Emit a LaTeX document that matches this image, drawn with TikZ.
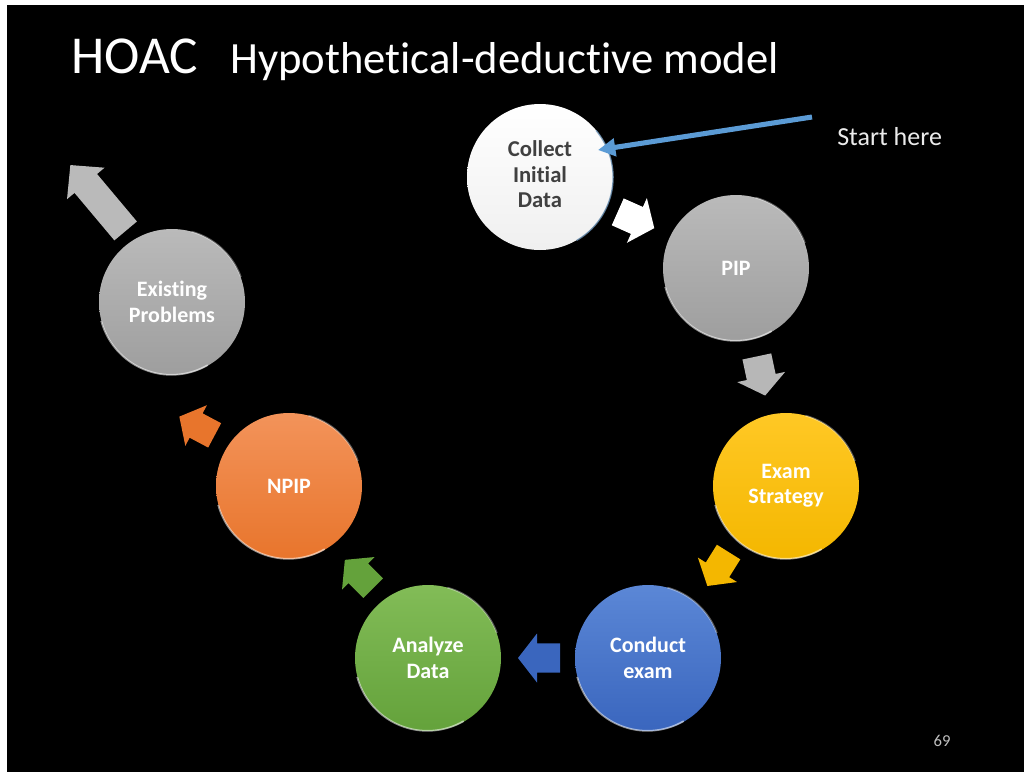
\documentclass[tikz,border=0pt]{standalone}
\usepackage{fontspec}
\setmainfont{Carlito}[Ligatures=CommonOff]
\usetikzlibrary{arrows.meta}
\definecolor{gtop}{HTML}{BABABA}\definecolor{gbot}{HTML}{9E9E9E}
\definecolor{otop}{HTML}{F3935A}\definecolor{obot}{HTML}{E8752C}
\definecolor{ytop}{HTML}{FFC825}\definecolor{ybot}{HTML}{F4B700}
\definecolor{btop}{HTML}{5B87D6}\definecolor{bbot}{HTML}{3A66BE}
\definecolor{ntop}{HTML}{82BC57}\definecolor{nbot}{HTML}{64A23B}
\definecolor{lineblue}{HTML}{5B9BD5}
\newcommand\blockarr[6]{% center, angle, colour, half length, head length, head half width
  \fill[#3, shift={(#1)}, rotate=#2]
    (-#4,{-0.6*#6}) -- ({#4-#5},{-0.6*#6}) -- ({#4-#5},-#6) -- (#4,0)
    -- ({#4-#5},#6) -- ({#4-#5},{0.6*#6}) -- (-#4,{0.6*#6}) -- cycle;}
\tikzset{
  ball/.style={circle, minimum size=109.5pt, inner sep=0pt, align=center,
    text=white, font=\bfseries\fontsize{16.5}{19}\selectfont},
  rim/.style={white, opacity=0.55, line width=1.3pt},
}
\begin{document}
\begin{tikzpicture}[x=0.75pt, y=-0.75pt]
\useasboundingbox (0,0) rectangle (1026,772);
\fill[white] (0,0) rectangle (1026,772);
\fill[black] (7,5) rectangle (1024,772);
% title
\node[anchor=base west, inner sep=0pt, text=white, font=\fontsize{40}{44}\selectfont] (hoac) at (71,73) {HOAC};
\node[anchor=base west, inner sep=0pt, text=white, font=\fontsize{33.5}{40}\selectfont] (subt) at (230,73) {Hypothetical-deductive model};
% circles
\node[ball, top color=white, bottom color=black!6, text=black!75,
      font=\bfseries\fontsize{17}{19}\selectfont] (collect) at (540,177)
      {\raisebox{3.5pt}{\begin{tabular}{@{}c@{}}Collect\\Initial\\Data\end{tabular}}};
\node[ball, top color=gtop, bottom color=gbot] (pip) at (736,268) {PIP};
\node[ball, top color=ytop, bottom color=ybot] (exam) at (786,486) {Exam\\Strategy};
\node[ball, top color=btop, bottom color=bbot] (conduct) at (648,658) {Conduct\\exam};
\node[ball, top color=ntop, bottom color=nbot] (analyze) at (428,658) {Analyze\\Data};
\node[ball, top color=otop, bottom color=obot] (npip) at (289,486) {NPIP};
\node[ball, top color=gtop, bottom color=gbot] (exist) at (172,302) {Existing\\Problems};
% rim highlights
\foreach \n in {pip,exam,conduct,analyze,npip,exist}{
  \draw[rim] (\n.195) arc[start angle=195, end angle=300, radius=54.5pt];
  \draw[rim, opacity=0.35] (\n.20) arc[start angle=20, end angle=75, radius=54.5pt];
}
\draw[lineblue!60!gray, line width=1pt, opacity=0.8] (collect.300) arc[start angle=-60, end angle=40, radius=54.7pt];
% block arrows
\blockarr{636,220}{-24}{white}{20}{19}{24.5}
\blockarr{761,376}{-78}{gtop!90!gbot}{20}{19}{24.5}
\blockarr{718,569}{-122}{ybot}{20}{19}{23}
\blockarr{539,658}{180}{bbot}{21}{19}{24.5}
\blockarr{359,574}{135}{nbot}{20}{19}{23}
\blockarr{197,426}{152}{obot}{20}{19}{23}
\blockarr{98,198}{130}{gtop}{43}{24}{24.5}
% start here
\coordinate (start) at (812,117);
\draw[lineblue, line width=3.8pt, -{Triangle[length=13pt, width=13pt]}]
  (start) -- ([shift={(58,-27)}]collect.center);
\node[anchor=base west, inner sep=0pt, text=white!92!black, font=\fontsize{19.5}{22}\selectfont] (starthere) at (837,145) {Start here};
\node[anchor=base, inner sep=0pt, text=white!75!black, font=\fontsize{12.5}{14}\selectfont] (pagenum) at (942,746) {69};
\end{tikzpicture}
\end{document}
